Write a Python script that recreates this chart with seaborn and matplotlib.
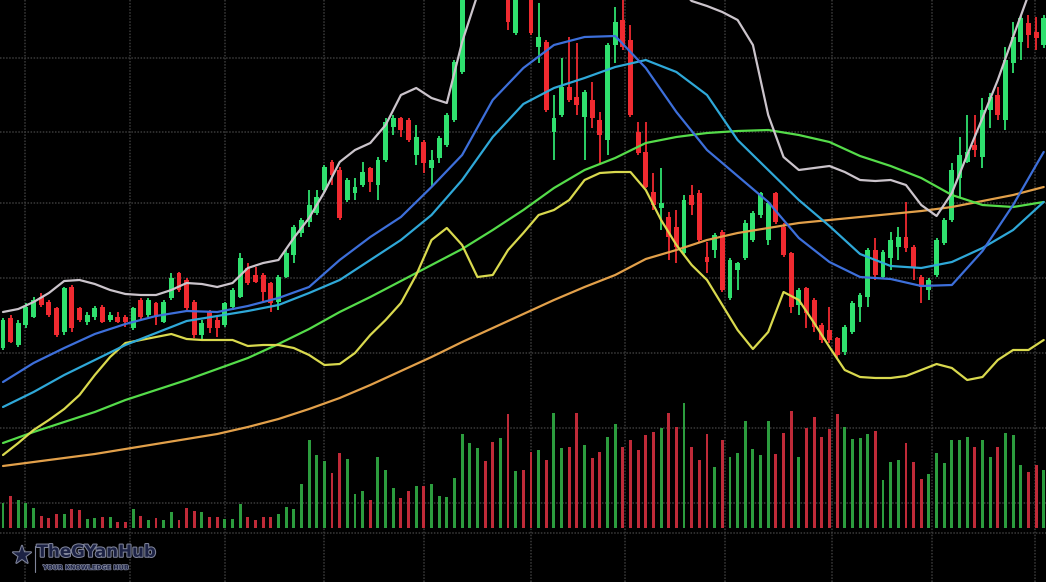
import numpy as np
import pandas as pd
import seaborn as sns
import matplotlib.pyplot as plt
import matplotlib.patheffects as pe

# ---- candle data (price units, one candle per session) ----
opens = [234, 264, 237, 257, 265, 285, 280, 274, 250, 295,
         274, 260, 265, 275, 262, 265, 265, 254, 282, 267,
         279, 260, 284, 309, 302, 280, 247, 270, 262, 257,
         275, 285, 314, 307, 307, 299, 280, 305, 327, 349,
         360, 369, 392, 420, 412, 382, 389, 397, 414, 397,
         422, 455, 464, 462, 427, 440, 414, 424, 437, 462,
         510, 602, 632, 672, 642, 592, 592, 549, 627, 587,
         535, 540, 450, 467, 495, 485, 465, 482, 462, 442,
         537, 562, 542, 450, 430, 390, 374, 365, 355, 329,
         387, 389, 325, 332, 350, 284, 312, 324, 342, 367,
         342, 389, 355, 329, 277, 294, 282, 257, 252, 244,
         230, 250, 275, 285, 332, 305, 324, 335, 345, 335,
         305, 292, 307, 339, 362, 404, 420, 437, 425, 472,
         487, 462, 519, 540, 559, 550, 537]
highs = [264, 267, 262, 279, 285, 289, 282, 275, 295, 297,
         275, 270, 276, 277, 270, 270, 267, 275, 284, 284,
         280, 282, 309, 310, 304, 282, 262, 272, 265, 280,
         294, 329, 319, 315, 309, 300, 307, 332, 357, 364,
         392, 392, 417, 422, 415, 404, 404, 420, 415, 425,
         464, 467, 465, 464, 457, 442, 432, 446, 469, 522,
         597, 647, 682, 680, 650, 645, 597, 592, 632, 592,
         579, 542, 487, 524, 545, 539, 492, 500, 470, 539,
         575, 582, 557, 460, 460, 409, 414, 370, 372, 387,
         397, 392, 340, 349, 352, 324, 320, 362, 371, 390,
         380, 390, 359, 330, 294, 295, 284, 259, 275, 245,
         257, 281, 289, 334, 344, 332, 350, 355, 380, 337,
         307, 304, 344, 364, 419, 445, 467, 467, 484, 489,
         495, 535, 560, 567, 567, 565, 567]
lows = [232, 239, 235, 254, 264, 275, 265, 245, 247, 250,
        260, 257, 262, 259, 260, 259, 255, 252, 262, 265,
        257, 259, 282, 290, 272, 244, 242, 249, 245, 255,
        272, 284, 297, 299, 280, 270, 272, 304, 319, 345,
        355, 367, 389, 397, 362, 380, 382, 395, 390, 382,
        420, 447, 445, 440, 417, 409, 395, 419, 435, 460,
        508, 597, 627, 630, 598, 590, 552, 547, 585, 547,
        519, 470, 422, 465, 480, 467, 422, 454, 419, 427,
        519, 532, 465, 427, 394, 372, 352, 322, 319, 327,
        367, 340, 309, 324, 290, 282, 292, 322, 340, 364,
        337, 358, 325, 269, 267, 254, 250, 239, 239, 224,
        227, 248, 260, 275, 302, 303, 312, 322, 330, 302,
        279, 282, 305, 337, 360, 385, 419, 425, 414, 454,
        462, 452, 509, 522, 534, 532, 534]
closes = [262, 240, 259, 275, 282, 277, 267, 247, 294, 254,
          262, 267, 274, 260, 267, 260, 260, 274, 265, 282,
          265, 280, 304, 292, 274, 247, 259, 254, 254, 279,
          292, 324, 299, 300, 290, 279, 305, 329, 355, 362,
          377, 385, 415, 407, 364, 402, 395, 410, 400, 422,
          460, 464, 452, 442, 445, 419, 422, 444, 467, 520,
          590, 642, 677, 637, 602, 637, 560, 587, 590, 549,
          545, 472, 464, 495, 482, 477, 490, 464, 447, 537,
          560, 535, 467, 429, 395, 377, 379, 345, 335, 382,
          377, 342, 320, 347, 292, 322, 319, 359, 369, 389,
          379, 360, 327, 275, 292, 269, 255, 242, 242, 227,
          255, 279, 287, 332, 307, 330, 342, 345, 334, 315,
          295, 302, 342, 362, 412, 427, 430, 432, 472, 485,
          467, 522, 545, 564, 547, 544, 564]
volumes = [25, 32, 28, 25, 20, 12, 10, 14, 14, 19,
           18, 9, 10, 11, 11, 6, 6, 19, 12, 8,
           10, 8, 16, 8, 20, 17, 16, 11, 11, 9,
           9, 24, 11, 8, 11, 11, 14, 21, 19, 44,
           88, 73, 67, 55, 75, 69, 34, 37, 28, 71,
           58, 40, 30, 37, 42, 42, 44, 32, 31, 50,
           94, 85, 80, 67, 86, 90, 114, 57, 58, 76,
           78, 68, 115, 80, 81, 115, 83, 70, 76, 91,
           104, 81, 88, 78, 93, 96, 100, 115, 101, 125,
           81, 68, 94, 61, 88, 71, 75, 107, 79, 73,
           107, 74, 95, 117, 71, 100, 111, 91, 99, 114,
           101, 89, 90, 94, 97, 48, 66, 68, 85, 66,
           49, 54, 75, 65, 88, 88, 91, 81, 88, 71,
           81, 95, 93, 63, 56, 63, 58]

# ---- indicator lines, sampled every 4 sessions (yellow / band every 2) ----
ma_sessions = list(range(0, 137, 4))
ma_blue = [200, 219, 234, 248, 258, 266, 271, 270, 276, 284, 295, 322,
           345, 365, 395, 427, 482, 514, 537, 545, 546, 514, 470, 432,
           406, 380, 344, 320, 305, 303, 296, 297, 331, 377, 430]
ma_cyan = [175, 190, 207, 222, 237, 249, 261, 266, 271, 277, 289, 302,
           322, 342, 367, 402, 445, 478, 494, 504, 515, 522, 510, 487,
           442, 412, 382, 356, 328, 316, 314, 320, 334, 352, 380]
ma_green = [139, 150, 160, 170, 182, 192, 202, 213, 224, 238, 253, 270,
            285, 301, 317, 333, 352, 372, 394, 412, 424, 439, 445, 449,
            451, 452, 447, 440, 426, 416, 404, 387, 377, 375, 380]
ma_orange = [116, 120, 124, 128, 133, 138, 143, 148, 155, 163, 173, 184,
             197, 211, 225, 240, 254, 268, 282, 295, 307, 323, 332, 342,
             349, 354, 359, 362, 365, 368, 371, 375, 381, 387, 395]
fine_sessions = list(range(0, 137, 2))
ma_yellow = [127, 139, 152, 162, 173, 187, 207, 225, 239, 242, 245, 248,
             243, 242, 242, 242, 236, 237, 237, 234, 227, 217, 218, 229,
             247, 262, 279, 307, 342, 354, 337, 305, 307, 332, 349, 367,
             372, 382, 402, 409, 410, 410, 392, 362, 337, 317, 302, 277,
             252, 233, 250, 290, 282, 259, 235, 212, 205, 204, 204, 206,
             212, 218, 214, 202, 205, 222, 232, 232, 242]
upper_band = [270, 273, 280, 289, 301, 302, 298, 292, 288, 287, 287, 292,
              299, 298, 295, 299, 314, 319, 322, 344, 364, 390, 420, 432,
              439, 457, 487, 494, 484, 479, 540, 587, 622, 642, 652, 657,
              660, 660, 657, 652, 644, 634, 624, 612, 597, 581, 576, 570,
              562, 537, 467, 425, 412, 414, 416, 410, 402, 401, 402, 397,
              377, 366, 389, 427, 464, 502, 545, 587, 622]

UP, DOWN = "#2fe06e", "#f02a30"
VOL_UP, VOL_DOWN = "#2c9c3e", "#bf2a38"

sns.set_theme(style="dark")
plt.rcParams["font.family"] = ["DejaVu Sans"]

idx = np.arange(len(opens))
o = np.array(opens, dtype=float)
c = np.array(closes, dtype=float)
up = c >= o
candle_colors = np.where(up, UP, DOWN)

fig = plt.figure(figsize=(10.46, 5.82), dpi=100, facecolor="black")
ax = fig.add_axes([0, 0, 1, 1])
ax.set_facecolor("black")

# grid
ax.set_xticks([2.9, 16.6, 29, 42, 55, 69, 81.3, 94.4, 108.4, 121.4, 134.9])
ax.set_yticks([49, 79, 154, 229, 304, 379, 450, 524])
ax.grid(True, color="#3a3a3a", linestyle=(0, (1, 1)), linewidth=1.1)
ax.tick_params(length=0, labelbottom=False, labelleft=False)
for s in ax.spines.values():
    s.set_visible(False)

# candles
ax.vlines(idx, lows, highs, colors=candle_colors, linewidth=1.3, zorder=2)
body_h = np.maximum(np.abs(c - o), 2)
ax.bar(idx, body_h, bottom=np.minimum(o, c), width=0.64,
       color=candle_colors, linewidth=0, zorder=3)

# indicator lines
lines = [
    (ma_sessions, ma_orange, "#e2a04a"),
    (ma_sessions, ma_green, "#55dc4a"),
    (fine_sessions, ma_yellow, "#d9d94e"),
    (ma_sessions, ma_cyan, "#2fa8d8"),
    (ma_sessions, ma_blue, "#3d6fda"),
    (fine_sessions, upper_band, "#cbc4cb"),
]
for xs, ys, col in lines:
    sns.lineplot(x=xs, y=ys, color=col, linewidth=1.6, ax=ax, zorder=4,
                 solid_joinstyle="round")

ax.set_xlabel("")
ax.set_ylabel("")
ax.set_xlim(-0.39, 136.3)
ax.set_ylim(0, 582)

# volume panel
vax = fig.add_axes([0, 54 / 582, 1, 125 / 582])
vax.set_facecolor("none")
vol_df = pd.DataFrame({"session": idx, "volume": volumes,
                       "direction": np.where(up, "up", "down")})
sns.barplot(data=vol_df, x="session", y="volume", hue="direction",
            palette={"up": VOL_UP, "down": VOL_DOWN}, native_scale=True,
            width=0.38, dodge=False, errorbar=None, saturation=1,
            legend=False, linewidth=0, ax=vax)
vax.set_xlim(-0.39, 136.3)
vax.set_ylim(0, 125)
vax.axis("off")

# watermark
stroke = [pe.withStroke(linewidth=1.5, foreground="#80859a")]
fig.text(0.021, 0.045, "\u2605", fontsize=17, color="#1c2244",
         ha="center", va="center", path_effects=stroke)
fig.text(0.035, 0.052, "TheGYanHub", fontsize=12, fontweight="bold",
         color="#1c2244", ha="left", va="center", path_effects=stroke)
fig.text(0.041, 0.024, "YOUR KNOWLEDGE HUB", fontsize=4.6, fontweight="bold",
         color="#1c2244", ha="left", va="center",
         path_effects=[pe.withStroke(linewidth=1.0, foreground="#80859a")])
fig.add_artist(plt.Line2D([0.033, 0.033], [0.018, 0.062], color="#80859a",
                          linewidth=0.8))

fig.savefig("out.png", dpi=100, facecolor="black")
